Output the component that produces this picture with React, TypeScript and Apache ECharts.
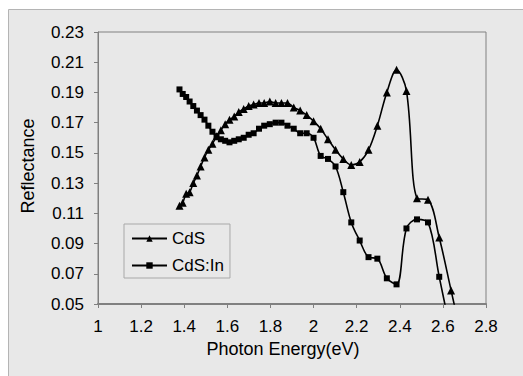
import React, { useEffect, useRef } from "react";
import * as echarts from "echarts";

const energy = [1.378, 1.393, 1.409, 1.425, 1.442, 1.459, 1.476, 1.494, 1.512, 1.531, 1.55, 1.57, 1.59, 1.61, 1.632, 1.653, 1.676, 1.699, 1.722, 1.747, 1.771, 1.797, 1.824, 1.851, 1.879, 1.908, 1.938, 1.968, 2.0, 2.033, 2.067, 2.102, 2.138, 2.175, 2.214, 2.255, 2.296, 2.34, 2.385, 2.431, 2.48, 2.531, 2.583, 2.638, 2.696];
const cds = [0.115, 0.117, 0.123, 0.124, 0.13, 0.135, 0.141, 0.147, 0.152, 0.156, 0.161, 0.165, 0.169, 0.172, 0.174, 0.177, 0.179, 0.181, 0.182, 0.183, 0.183, 0.184, 0.183, 0.183, 0.183, 0.18, 0.178, 0.175, 0.171, 0.166, 0.159, 0.152, 0.146, 0.142, 0.144, 0.152, 0.168, 0.19, 0.205, 0.191, 0.12, 0.119, 0.094, 0.059, 0.022];
const cdsIn = [0.192, 0.189, 0.187, 0.184, 0.181, 0.178, 0.175, 0.172, 0.168, 0.164, 0.161, 0.159, 0.158, 0.157, 0.158, 0.159, 0.16, 0.162, 0.163, 0.166, 0.168, 0.169, 0.17, 0.17, 0.168, 0.166, 0.163, 0.163, 0.16, 0.148, 0.146, 0.141, 0.124, 0.104, 0.092, 0.081, 0.08, 0.067, 0.063, 0.1, 0.106, 0.104, 0.068, 0.03];
const seriesNames = ["CdS", "CdS:In"];
const xTitle = "Photon Energy(eV)";
const yTitle = "Reflectance";

const FONT = "'Liberation Sans', Arial, sans-serif";

export default function App() {
  const ref = useRef<HTMLDivElement>(null);
  useEffect(() => {
    if (!ref.current) return;
    const chart = echarts.init(ref.current, undefined, { renderer: "svg" });
    const pairs = (ys: number[]) => ys.map((y, i) => [energy[i], y]);
    chart.setOption({
      animation: false,
      backgroundColor: "#ffffff",
      textStyle: { fontFamily: FONT },
      graphic: [
        {
          type: "rect",
          z: -100,
          shape: { x: 8.5, y: 9.5, width: 600, height: 500 },
          style: { fill: "#e8e8e8", stroke: "#b4b4b4", lineWidth: 1 },
        },
        {
          type: "text",
          x: 283,
          y: 349,
          style: { text: xTitle, font: `18px ${FONT}`, fill: "#000", align: "center", verticalAlign: "middle" },
        },
        {
          type: "text",
          x: 28,
          y: 166,
          rotation: Math.PI / 2,
          style: { text: yTitle, font: `18px ${FONT}`, fill: "#000", align: "center", verticalAlign: "middle" },
        },
      ],
      grid: {
        left: 98,
        top: 32,
        width: 388,
        height: 272,
        show: true,
        borderColor: "#808080",
        borderWidth: 1,
        backgroundColor: "transparent",
      },
      legend: {
        left: 124,
        top: 224,
        orient: "vertical",
        backgroundColor: "#e8e8e8",
        borderColor: "#a8a8a8",
        borderWidth: 1,
        padding: [6, 6, 4, 7],
        itemWidth: 35,
        itemHeight: 8,
        itemGap: 10,
        textStyle: { fontSize: 17, color: "#000", fontFamily: FONT },
        data: seriesNames,
      },
      xAxis: {
        type: "value",
        min: 1,
        max: 2.8,
        interval: 0.2,
        axisLine: { show: true, lineStyle: { color: "#808080", width: 2 } },
        axisTick: { show: true, length: 4, lineStyle: { color: "#808080" } },
        splitLine: { show: false },
        axisLabel: { fontSize: 17, color: "#000", margin: 14, fontFamily: FONT },
      },
      yAxis: {
        type: "value",
        min: 0.05,
        max: 0.23,
        interval: 0.02,
        axisLine: { show: true, lineStyle: { color: "#808080", width: 1 } },
        axisTick: { show: true, length: 4, lineStyle: { color: "#808080" } },
        splitLine: { show: false },
        axisLabel: {
          fontSize: 17,
          color: "#000",
          margin: 14,
          fontFamily: FONT,
          formatter: (v: number) => v.toFixed(2),
        },
      },
      series: [
        {
          name: seriesNames[0],
          type: "line",
          data: pairs(cds),
          smooth: 0.35,
          symbol: "triangle",
          symbolSize: 8,
          clip: true,
          lineStyle: { color: "#000", width: 1.6 },
          itemStyle: { color: "#000" },
        },
        {
          name: seriesNames[1],
          type: "line",
          data: pairs(cdsIn),
          smooth: 0.35,
          symbol: "rect",
          symbolSize: 6,
          clip: true,
          lineStyle: { color: "#000", width: 1.6 },
          itemStyle: { color: "#000" },
        },
      ],
    });
    return () => chart.dispose();
  }, []);
  return (
    <div
      ref={ref}
      style={{ position: "fixed", left: 0, top: 0, width: 523, height: 376 }}
    />
  );
}
